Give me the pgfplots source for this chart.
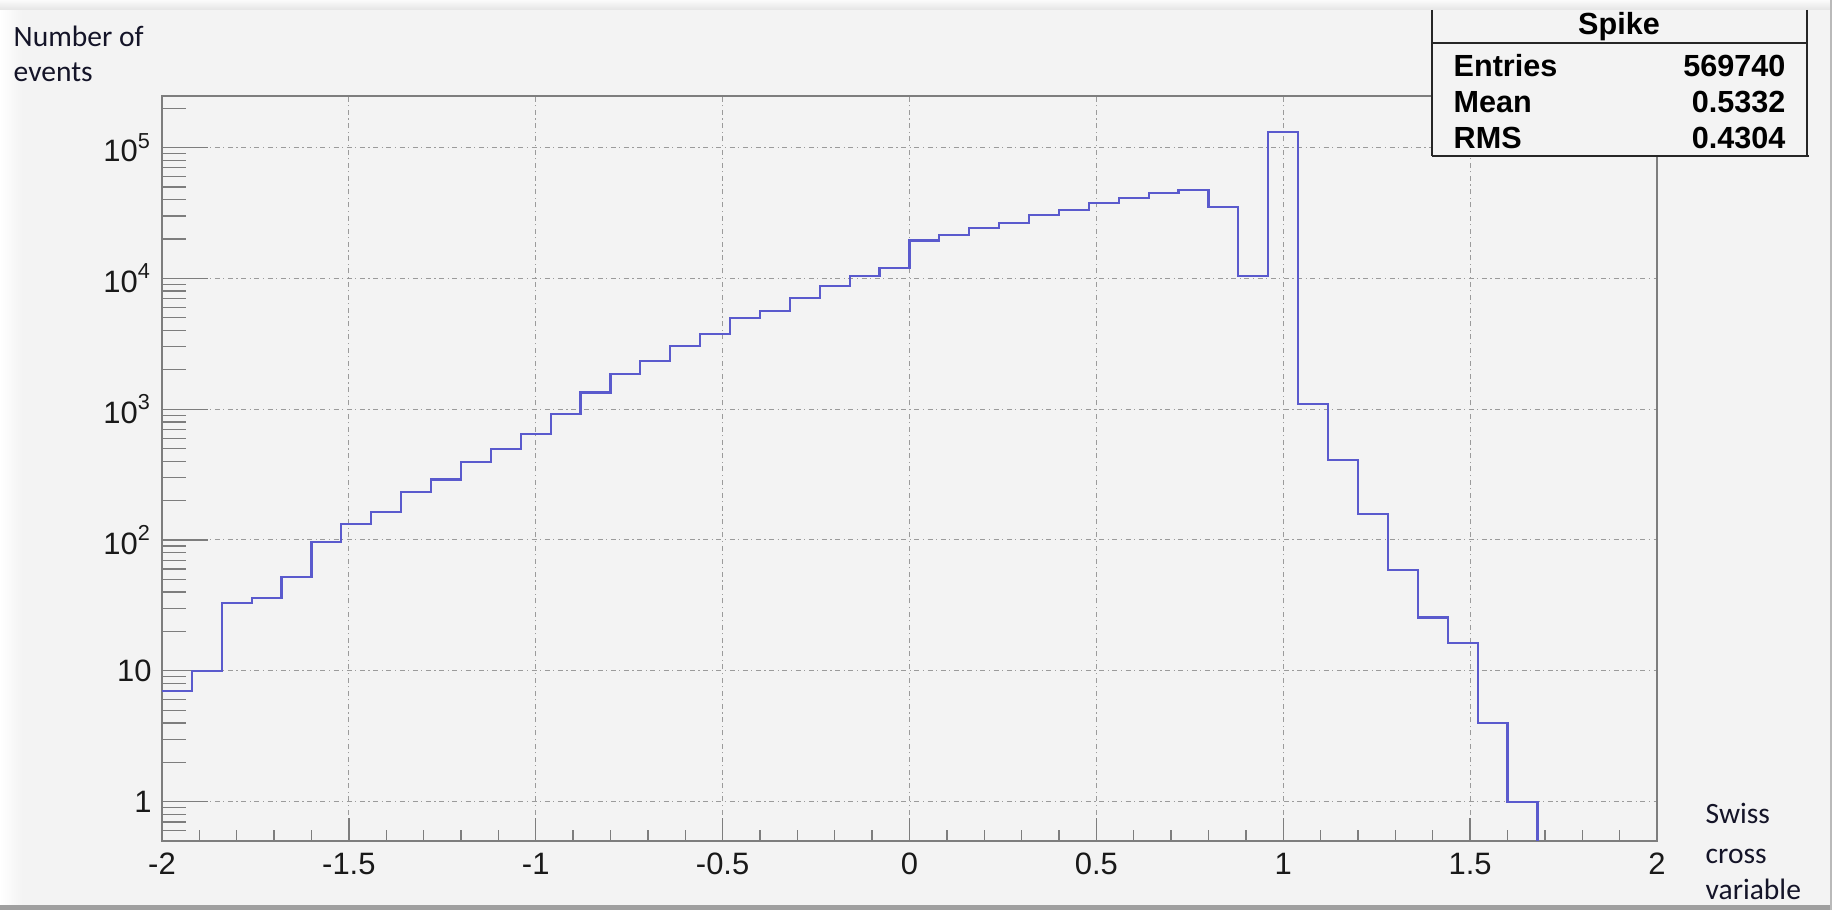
\documentclass[border=0pt]{standalone}
\usepackage{pgfplots}
\pgfplotsset{compat=1.18}
\usepackage{fontspec}
\setmainfont{Liberation Sans}
\newfontfamily\calfont{Carlito}
\definecolor{bg}{RGB}{243,243,243}
\definecolor{axgray}{RGB}{125,125,125}
\definecolor{gridgray}{RGB}{155,155,155}
\definecolor{histblue}{RGB}{90,90,205}
\definecolor{labcol}{RGB}{20,20,40}
\begin{document}
\begin{tikzpicture}
\path[use as bounding box] (0,0) rectangle (183.2mm,91mm);
\fill[bg] (0,0) rectangle (183.2mm,91mm);
\shade[left color=white, right color=bg] (0,0) rectangle (2.2mm,91mm);
\shade[top color=white!70!bg, bottom color=bg!94!black] (0,90mm) rectangle (183.2mm,91mm);
\fill[gray!75] (0,0) rectangle (183.2mm,0.45mm);
\fill[gray!55] (183mm,0) rectangle (183.2mm,91mm);
\begin{axis}[
  at={(16.2mm,6.9mm)}, anchor=south west,
  scale only axis, width=149.5mm, height=74.5mm,
  xmin=-2, xmax=2, ymode=log, ymin=0.5, ymax=2.48e5,
  axis background/.style={fill=bg},
  axis line style={draw=axgray, line width=0.18mm},
  tick pos=left,
  xtick={-2,-1.5,-1,-0.5,0,0.5,1,1.5,2},
  xticklabels={-2,-1.5,-1,-0.5,0,0.5,1,1.5,2},
  minor x tick num=4,
  ytick={1,10,100,1000,10000,100000},
  yticklabels={1,10,10\textsuperscript{2},10\textsuperscript{3},10\textsuperscript{4},10\textsuperscript{5}},
  minor ytick={0.6,0.7,0.8,0.9,2,3,4,5,6,7,8,9,20,30,40,50,60,70,80,90,200,300,400,500,600,700,800,900,2000,3000,4000,5000,6000,7000,8000,9000,20000,30000,40000,50000,60000,70000,80000,90000,200000},
  tick style={draw=axgray, line width=0.13mm},
  xtick style={/pgfplots/major tick length=2.3mm, /pgfplots/minor tick length=1.1mm},
  ytick style={/pgfplots/major tick length=4.6mm, /pgfplots/minor tick length=2.4mm},
  grid=major,
  major grid style={draw=gridgray, line width=0.1mm, dash pattern=on 0.5mm off 0.35mm on 0.12mm off 0.35mm},
  ticklabel style={font=\fontsize{8.8}{10}\selectfont, text=black!90},
  yticklabel style={xshift=0.2mm},
  clip=false,
]
\addplot[const plot, histblue, line width=0.22mm] coordinates {
(-2.00,7) (-1.92,10) (-1.84,33) (-1.76,36) (-1.68,52) (-1.60,97) (-1.52,132) (-1.44,164)
(-1.36,234) (-1.28,290) (-1.20,395) (-1.12,497) (-1.04,646) (-0.96,925) (-0.88,1340)
(-0.80,1850) (-0.72,2320) (-0.64,3050) (-0.56,3770) (-0.48,4960) (-0.40,5670) (-0.32,7050)
(-0.24,8750) (-0.16,10500) (-0.08,12000) (0.00,19500) (0.08,21400) (0.16,24300) (0.24,26500)
(0.32,30400) (0.40,33300) (0.48,37900) (0.56,41400) (0.64,44900) (0.72,47600) (0.80,34900)
(0.88,10400) (0.96,131000) (1.04,1090) (1.12,408) (1.20,158) (1.28,59) (1.36,25.6)
(1.44,16.4) (1.52,4) (1.60,1) (1.68,0.5)
};
\end{axis}
% axis titles
\node[anchor=base west, inner sep=0, font=\calfont\fontsize{8.4}{10}\selectfont, text=labcol] at (1.3mm,86.3mm) {Number of};
\node[anchor=base west, inner sep=0, font=\calfont\fontsize{8.4}{10}\selectfont, text=labcol] at (1.3mm,82.8mm) {events};
\node[anchor=base west, inner sep=0, font=\calfont\fontsize{8.4}{10}\selectfont, text=labcol] at (170.5mm,8.6mm) {Swiss};
\node[anchor=base west, inner sep=0, font=\calfont\fontsize{8.4}{10}\selectfont, text=labcol] at (170.5mm,4.6mm) {cross};
\node[anchor=base west, inner sep=0, font=\calfont\fontsize{8.4}{10}\selectfont, text=labcol] at (170.5mm,1.0mm) {variable};
% stats box
\fill[bg] (143.2mm,75.4mm) rectangle (180.7mm,90.0mm);
\draw[black!85, line width=0.12mm] (143.2mm,90.0mm) -- (143.2mm,75.4mm);
\draw[black!85, line width=0.12mm] (180.7mm,90.0mm) -- (180.7mm,75.4mm);
\draw[black!85, line width=0.25mm] (143.2mm,75.4mm) -- (180.85mm,75.4mm);
\draw[black!85, line width=0.12mm] (143.2mm,86.7mm) -- (180.7mm,86.7mm);
\node[anchor=base, inner sep=0, font=\bfseries\fontsize{8.7}{10}\selectfont] at (161.9mm,87.5mm) {Spike};
\node[anchor=base west, inner sep=0, font=\bfseries\fontsize{8.7}{10}\selectfont] at (145.3mm,83.3mm) {Entries};
\node[anchor=base west, inner sep=0, font=\bfseries\fontsize{8.7}{10}\selectfont] at (145.3mm,79.7mm) {Mean};
\node[anchor=base west, inner sep=0, font=\bfseries\fontsize{8.7}{10}\selectfont] at (145.3mm,76.1mm) {RMS};
\node[anchor=base east, inner sep=0, font=\bfseries\fontsize{8.7}{10}\selectfont] at (178.6mm,83.3mm) {569740};
\node[anchor=base east, inner sep=0, font=\bfseries\fontsize{8.7}{10}\selectfont] at (178.6mm,79.7mm) {0.5332};
\node[anchor=base east, inner sep=0, font=\bfseries\fontsize{8.7}{10}\selectfont] at (178.6mm,76.1mm) {0.4304};
\end{tikzpicture}
\end{document}
